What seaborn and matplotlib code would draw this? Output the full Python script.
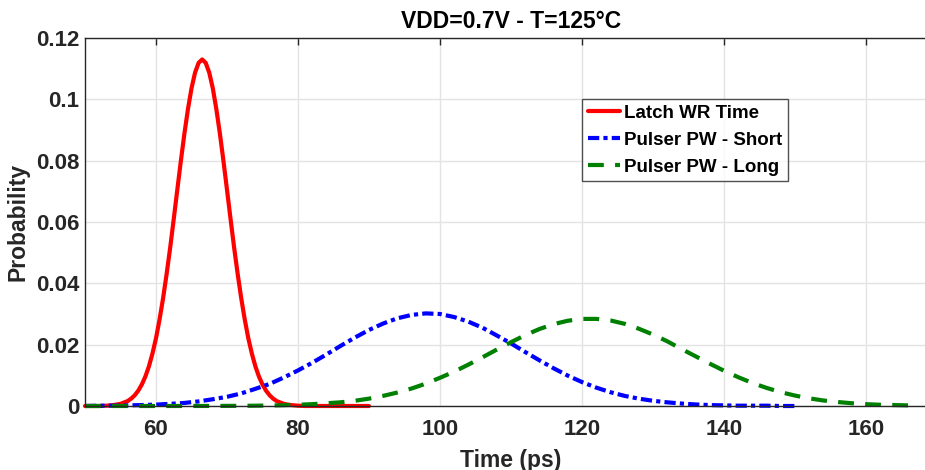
import matplotlib
matplotlib.use("Agg")
import matplotlib.pyplot as plt
import seaborn as sns
import pandas as pd

# Latch write time distribution (finer steps around the peak)
latch_t = [50, 51, 52, 53, 54, 55, 56, 56.5, 57, 57.5, 58, 58.5, 59, 59.5, 60, 60.5, 61, 61.5,
           62, 62.5, 63, 63.5, 64, 64.5, 65, 65.5, 66, 66.5, 67, 67.5, 68, 68.5, 69, 69.5,
           70, 70.5, 71, 71.5, 72, 72.5, 73, 73.5, 74, 74.5, 75, 75.5, 76, 76.5, 77, 78,
           79, 80, 81, 82, 84, 86, 88, 90]
latch_p = [0.0000, 0.0000, 0.0000, 0.0001, 0.0003, 0.0007, 0.0016, 0.0024, 0.0035, 0.0050,
           0.0070, 0.0096, 0.0129, 0.0171, 0.0221, 0.0282, 0.0352, 0.0431, 0.0517, 0.0610,
           0.0705, 0.0799, 0.0888, 0.0968, 0.1036, 0.1087, 0.1119, 0.1130, 0.1119, 0.1087,
           0.1036, 0.0968, 0.0888, 0.0799, 0.0705, 0.0610, 0.0517, 0.0431, 0.0352, 0.0282,
           0.0221, 0.0171, 0.0129, 0.0096, 0.0070, 0.0050, 0.0035, 0.0024, 0.0016, 0.0007,
           0.0003, 0.0001, 0.0000, 0.0000, 0.0000, 0.0000, 0.0000, 0.0000]

# Pulser pulse width, short setting (2 ps steps)
short_t = list(range(50, 151, 2))
short_p = [0.0000, 0.0001, 0.0001, 0.0002, 0.0003, 0.00045, 0.0007, 0.0010, 0.0015, 0.0022,
           0.0030, 0.0041, 0.0056, 0.0072, 0.0093, 0.0116, 0.0141, 0.0168, 0.0196, 0.0223,
           0.0248, 0.0269, 0.0286, 0.0297, 0.0302, 0.0300, 0.0290, 0.0275, 0.0255, 0.0230,
           0.0204, 0.0176, 0.0149, 0.0123, 0.0099, 0.0078, 0.0060, 0.0045, 0.0033, 0.0024,
           0.0017, 0.0012, 0.0008, 0.0005, 0.0003, 0.0002, 0.0001, 0.0001, 0.0001, 0.0000,
           0.0000]

# Pulser pulse width, long setting (2 ps steps)
long_t = list(range(50, 167, 2))
long_p = [0.0000, 0.0000, 0.0000, 0.0000, 0.0000, 0.0000, 0.0000, 0.00001, 0.00001, 0.00002,
          0.00004, 0.00006, 0.0001, 0.00016, 0.00025, 0.0004, 0.0006, 0.0009, 0.0012, 0.0017,
          0.0024, 0.0033, 0.0044, 0.0057, 0.0073, 0.0092, 0.0112, 0.0135, 0.0159, 0.0184,
          0.0208, 0.0231, 0.0251, 0.0267, 0.0278, 0.0284, 0.0284, 0.0279, 0.0268, 0.0252,
          0.0233, 0.0211, 0.0186, 0.0162, 0.0138, 0.0115, 0.0094, 0.0075, 0.0059, 0.0045,
          0.0034, 0.0025, 0.0018, 0.0013, 0.0009, 0.0006, 0.0004, 0.0003, 0.0002]

series_labels = ["Latch WR Time", "Pulser PW - Short", "Pulser PW - Long"]
x_ticks = [60, 80, 100, 120, 140, 160]
y_ticks = [0, 0.02, 0.04, 0.06, 0.08, 0.1, 0.12]
y_tick_labels = ["0", "0.02", "0.04", "0.06", "0.08", "0.1", "0.12"]

sns.set_style("white")
plt.rcParams["font.family"] = ["Liberation Sans", "DejaVu Sans"]
plt.rcParams["font.weight"] = "bold"

ink = "#262626"
fig = plt.figure(figsize=(9.25, 4.7), dpi=100)
ax = fig.add_axes([85 / 925, 64 / 470, 852 / 925, 368 / 470])

latch = pd.DataFrame({"t": latch_t, "p": latch_p})
short = pd.DataFrame({"t": short_t, "p": short_p})
long_ = pd.DataFrame({"t": long_t, "p": long_p})

sns.lineplot(data=latch, x="t", y="p", ax=ax, color="#ff0000", linewidth=3,
             label=series_labels[0], clip_on=False)
sns.lineplot(data=short, x="t", y="p", ax=ax, color="#0000ff", linewidth=3,
             linestyle=(0, (2.7, 1.0, 1.0, 1.0)), label=series_labels[1], clip_on=False)
sns.lineplot(data=long_, x="t", y="p", ax=ax, color="#008000", linewidth=3,
             linestyle=(0, (3.8, 2.7)), label=series_labels[2], clip_on=False)

ax.set_xlim(50, 170)
ax.set_ylim(0, 0.12)
ax.set_xticks(x_ticks)
ax.set_xticklabels([str(v) for v in x_ticks])
ax.set_yticks(y_ticks)
ax.set_yticklabels(y_tick_labels)

ax.grid(True, color="#e3e3e3", linewidth=1.0)
ax.set_axisbelow(True)
for side in ["top", "bottom", "left", "right"]:
    ax.spines[side].set_color(ink)
    ax.spines[side].set_linewidth(1.0)
ax.tick_params(axis="both", direction="in", length=5, width=1.0, color=ink,
               labelsize=16, labelcolor=ink, top=True, right=True)
ax.tick_params(axis="x", pad=9.5)
ax.tick_params(axis="y", pad=4)
for lab in ax.get_xticklabels() + ax.get_yticklabels():
    lab.set_fontweight("bold")

ax.set_xlabel("Time (ps)", fontsize=16.5, fontweight="bold", color=ink, labelpad=6)
ax.set_ylabel("Probability", fontsize=16.5, fontweight="bold", color=ink, labelpad=5)
ax.set_title("VDD=0.7V - T=125°C", fontsize=16.5, fontweight="bold", color="black", pad=7)

leg = ax.legend(loc="upper left", bbox_to_anchor=(582 / 925, 1 - 99 / 470),
                bbox_transform=fig.transFigure, fontsize=13.5, frameon=True,
                fancybox=False, handlelength=1.75, handletextpad=0.2,
                labelspacing=0.52, borderpad=0.3, borderaxespad=0)
leg.get_frame().set_edgecolor(ink)
leg.get_frame().set_linewidth(1.0)
for t in leg.get_texts():
    t.set_fontweight("bold")
    t.set_color("black")

fig.savefig("out.png", dpi=100)
